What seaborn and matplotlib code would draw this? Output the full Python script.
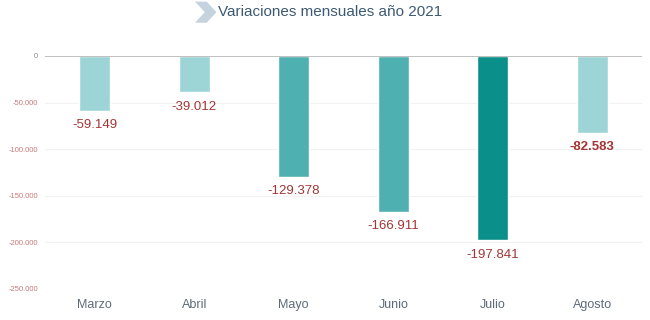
import matplotlib
matplotlib.use('Agg')
import matplotlib.pyplot as plt
from matplotlib.patches import Polygon
import pandas as pd
import seaborn as sns

# data
meses = ['Marzo', 'Abril', 'Mayo', 'Junio', 'Julio', 'Agosto']
variaciones = [-59149, -39012, -129378, -166911, -197841, -82583]
colores = ['#9dd4d6', '#9dd4d6', '#4fb0b1', '#4fb0b1', '#0b8f8a', '#9dd4d6']
y_ticks = [0, -50000, -100000, -150000, -200000, -250000]

df = pd.DataFrame({'mes': meses, 'variacion': variaciones})

sns.set_style('white')
plt.rcParams['font.family'] = ['Liberation Sans', 'DejaVu Sans']

fig = plt.figure(figsize=(6.5, 3.2), dpi=100)
ax = fig.add_axes([0.069, 0.097, 0.919, 0.728])

sns.barplot(data=df, x='mes', y='variacion', hue='mes',
            palette=dict(zip(meses, colores)), width=0.31,
            legend=False, ax=ax, saturation=1)

ax.set_ylim(-250000, 0)
ax.set_xlim(-0.5, 5.5)
ax.set_yticks(y_ticks)
ax.set_yticklabels([f'{v:,}'.replace(',', '.') for v in y_ticks],
                   fontsize=5.5, color='#c57a7a')
ax.get_yticklabels()[0].set_color('#888888')
ax.tick_params(axis='y', length=0, pad=5)
ax.tick_params(axis='x', length=0, pad=7, labelsize=9, labelcolor='#5d6b7a')
ax.set(xlabel=None, ylabel=None)

# faint grid, grey zero line
for v in y_ticks[1:]:
    ax.axhline(v, color='#f2f2f2', lw=0.8, zorder=0)
ax.axhline(0, color='#b5b5b5', lw=1.2, zorder=3)
sns.despine(ax=ax, left=True, bottom=True, top=True, right=True)

# value labels under each bar
for i, v in enumerate(variaciones):
    ax.annotate(f'{v:,}'.replace(',', '.'), (i, v), xytext=(0, -6),
                textcoords='offset points', ha='center', va='top',
                fontsize=9.5, color='#a33535',
                fontweight='bold' if meses[i] == 'Agosto' else 'normal')

# title with chevron mark
fig.text(0.335, 0.962, 'Variaciones mensuales año 2021', ha='left', va='center',
         fontsize=11, color='#3d5a72')
chev = Polygon([[0.300, 0.995], [0.318, 0.995], [0.333, 0.962], [0.318, 0.929],
                [0.300, 0.929], [0.315, 0.962]], closed=True,
               transform=fig.transFigure, color='#c5d3df', lw=0)
fig.patches.append(chev)

fig.savefig('out.png', dpi=100)
